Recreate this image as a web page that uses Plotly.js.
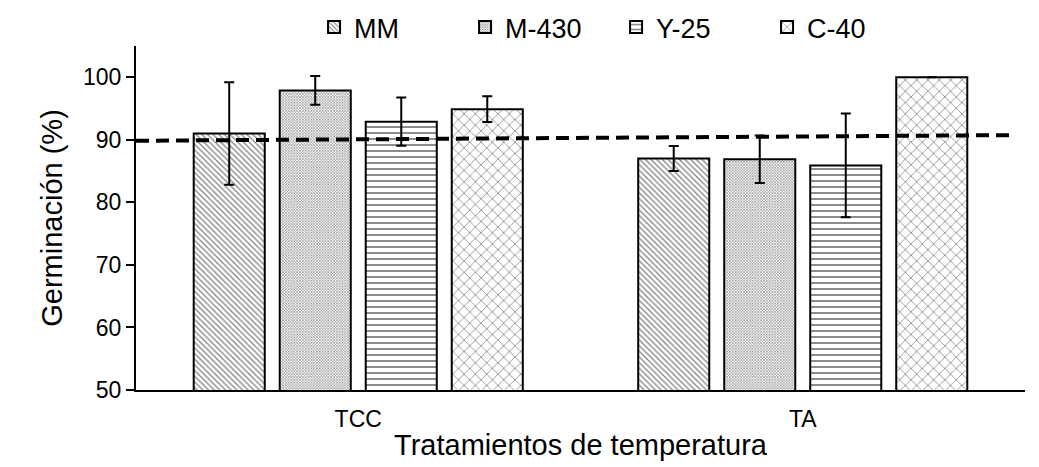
<!DOCTYPE html>
<html>
<head>
<meta charset="utf-8">
<script src="https://cdn.plot.ly/plotly-3.0.1.min.js"></script>
<style>html,body{margin:0;padding:0;background:#fff;}#chart{width:1039px;height:467px;}</style>
</head>
<body>
<div id="chart"></div>
<script>
// ---- data ----
const categories = ["TCC", "TA"];
const seriesNames = ["MM", "M-430", "Y-25", "C-40"];
const valuesMM   = [91.0, 87.0];
const valuesM430 = [97.9, 86.9];
const valuesY25  = [92.9, 85.9];
const valuesC40  = [94.9, 100.0];
const errMM   = [8.2, 2.0];
const errM430 = [2.3, 3.8];
const errY25  = [3.85, 8.3];
const errC40  = [2.05, 0];
const trendX = [-0.5, 1.47];
const trendY = [89.85, 90.75];
const yTicks = [50, 60, 70, 80, 90, 100];

const FONT = "Liberation Sans, Arial, sans-serif";
const patterns = [
  {shape: "\\", size: 4, solidity: 0.3},
  {shape: "x", size: 2, solidity: 0.5},
  {shape: "-", size: 6, solidity: 0.3},
  {shape: "x", size: 8, solidity: 0.18}
];
const vals = [valuesMM, valuesM430, valuesY25, valuesC40];
const errs = [errMM, errM430, errY25, errC40];

const traces = seriesNames.map((name, i) => ({
  type: "bar",
  name: name,
  x: categories,
  y: vals[i],
  marker: {
    color: "#ffffff",
    line: {color: "#000000", width: 2},
    pattern: Object.assign({fgcolor: "#000000", bgcolor: "#ffffff", fillmode: "overlay"}, patterns[i])
  },
  error_y: {type: "data", array: errs[i], visible: true, color: "#000000", thickness: 2, width: 5}
}));

traces.push({
  type: "scatter",
  mode: "lines",
  x: trendX,
  y: trendY,
  xaxis: "x2",
  showlegend: false,
  hoverinfo: "skip",
  line: {color: "#000000", width: 4, dash: "13px,7px"}
});

const layout = {
  width: 1039,
  height: 467,
  paper_bgcolor: "#ffffff",
  plot_bgcolor: "#ffffff",
  font: {family: FONT, color: "#000000", size: 23},
  margin: {l: 136, r: 14, t: 46, b: 77, autoexpand: false},
  barmode: "group",
  bargap: 0.226,
  bargroupgap: 0.174,
  showlegend: true,
  legend: {
    orientation: "h",
    x: 0.54, xanchor: "center",
    y: 1.125, yanchor: "top",
    font: {size: 27, family: FONT},
    entrywidth: 106,
    itemwidth: 30,
    traceorder: "normal",
    bgcolor: "rgba(0,0,0,0)"
  },
  xaxis: {
    type: "category",
    range: [-0.5, 1.5],
    showline: true, linecolor: "#000000", linewidth: 2,
    ticks: "", showgrid: false, zeroline: false,
    tickfont: {size: 23, family: FONT},
    ticklabelstandoff: 7,
    automargin: false,
    title: {text: "Tratamientos de temperatura", font: {size: 29, family: FONT}, standoff: 4}
  },
  xaxis2: {
    overlaying: "x",
    range: [-0.5, 1.5],
    visible: false
  },
  yaxis: {
    range: [50, 105],
    tickvals: yTicks,
    ticktext: yTicks.map(String),
    showline: true, linecolor: "#000000", linewidth: 2,
    ticks: "outside", ticklen: 8, tickwidth: 2, tickcolor: "#000000",
    showgrid: false, zeroline: false,
    tickfont: {size: 23, family: FONT},
    automargin: false,
    title: {text: "Germinación (%)", font: {size: 29, family: FONT}, standoff: 12}
  }
};

Plotly.newPlot("chart", traces, layout, {displayModeBar: false, staticPlot: true});
</script>
</body>
</html>
